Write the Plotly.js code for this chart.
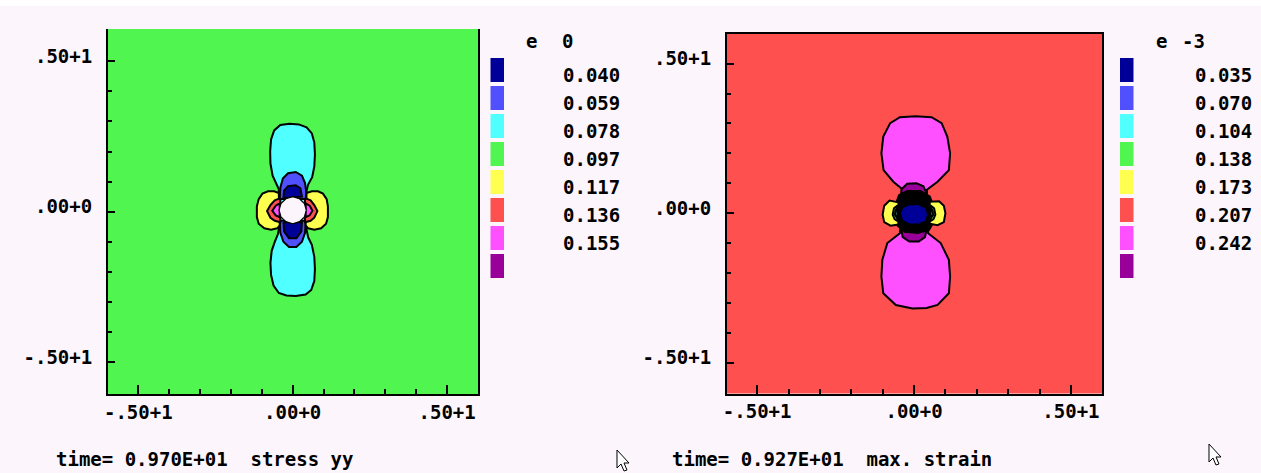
<!DOCTYPE html>
<html>
<head>
<meta charset="utf-8">
<script src="https://cdn.plot.ly/plotly-3.0.1.min.js"></script>
<style>html,body{margin:0;padding:0;background:#FCF5FC;}#plot{width:1261px;height:473px;}</style>
</head>
<body>
<div id="plot"></div>
<script>
// ---------- data ----------
const levelsLeft  = ['0.040','0.059','0.078','0.097','0.117','0.136','0.155'];
const levelsRight = ['0.035','0.070','0.104','0.138','0.173','0.207','0.242'];
const bandColors  = ['#000099','#5050FF','#50FFFF','#50F550','#FFFF50','#FF5050','#FF50FF','#990099'];
const scaleExpLeft = '0', scaleExpRight = '-3';
const captionLeft  = 'time= 0.970E+01  stress yy';
const captionRight = 'time= 0.927E+01  max. strain';
const majorTicks = [-5, 0, 5];
const majorText  = ['-.50+1', '.00+0', '.50+1'];
const minorTicks = [-4, -3, -2, -1, 1, 2, 3, 4];

// stress yy contour regions (data units)
const syCyanX = [-0.45,-0.55,-0.65,-0.72,-0.73,-0.70,-0.60,-0.40,-0.10,0.20,0.45,0.62,0.70,0.72,0.70,0.63,0.50,0.45,0.45,0.50,0.62,0.70,0.72,0.70,0.60,0.42,0.10,-0.20,-0.45,-0.62,-0.70,-0.72,-0.68,-0.58,-0.48,-0.45];
const syCyanY = [0.75,0.95,1.20,1.60,2.00,2.40,2.70,2.88,2.92,2.90,2.80,2.60,2.30,1.90,1.50,1.15,0.90,0.70,-0.60,-0.85,-1.10,-1.50,-1.90,-2.30,-2.60,-2.75,-2.80,-2.78,-2.70,-2.45,-2.10,-1.70,-1.30,-1.00,-0.75,-0.60];
const syYellowLX = [-0.45,-0.60,-0.80,-0.98,-1.10,-1.16,-1.16,-1.10,-0.92,-0.70,-0.50,-0.42];
const syYellowRX = [0.45,0.62,0.82,0.98,1.10,1.14,1.14,1.08,0.92,0.70,0.50,0.42];
const syYellowY  = [0.62,0.68,0.68,0.60,0.42,0.18,-0.18,-0.40,-0.55,-0.60,-0.55,-0.45];
const syRedLX = [-0.40,-0.58,-0.72,-0.83,-0.72,-0.58,-0.40];
const syRedRX = [0.40,0.58,0.70,0.80,0.70,0.58,0.40];
const syRedY  = [0.45,0.38,0.22,0.02,-0.20,-0.30,-0.35];
const syMagLX = [-0.42,-0.55,-0.66,-0.55,-0.42];
const syMagRX = [0.42,0.55,0.64,0.55,0.42];
const syMagY  = [0.28,0.20,0.03,-0.12,-0.18];
const syBlueTopX = [-0.42,-0.40,-0.32,-0.15,0.10,0.30,0.40,0.44,0.42];
const syBlueTopY = [0.42,0.80,1.10,1.28,1.32,1.20,0.95,0.65,0.42];
const syDarkTopX = [-0.30,-0.28,-0.15,0.10,0.25,0.30];
const syDarkTopY = [0.45,0.70,0.85,0.88,0.78,0.50];
const syBlueBotX = [-0.42,-0.40,-0.30,-0.12,0.12,0.30,0.40,0.42];
const syBlueBotY = [-0.30,-0.70,-1.00,-1.17,-1.17,-1.00,-0.70,-0.30];
const syDarkBotX = [-0.30,-0.28,-0.12,0.12,0.28,0.30];
const syDarkBotY = [-0.35,-0.65,-0.88,-0.88,-0.65,-0.35];
const syHoleX = [0.44,0.38,0.22,0.00,-0.22,-0.38,-0.44,-0.38,-0.22,0.00,0.22,0.38];
const syHoleY = [0.05,0.27,0.43,0.50,0.43,0.27,0.05,-0.17,-0.33,-0.40,-0.33,-0.17];

// max strain contour regions (data units)
const msMagX = [-0.35,-0.66,-0.97,-1.04,-0.98,-0.76,-0.45,0.05,0.56,0.88,1.06,1.15,1.11,0.75,0.41,0.45,0.85,1.11,1.15,1.11,0.75,0.40,-0.05,-0.58,-0.98,-1.04,-1.01,-0.85,-0.45];
const msMagY = [0.78,1.05,1.44,2.00,2.56,3.01,3.21,3.24,3.21,3.01,2.56,2.00,1.44,1.05,0.78,-0.67,-1.00,-1.56,-2.12,-2.68,-3.07,-3.17,-3.19,-3.07,-2.68,-2.12,-1.56,-1.00,-0.67];
const msPurpTopX = [-0.42,-0.40,-0.22,0.08,0.30,0.40,0.38];
const msPurpTopY = [0.45,0.80,0.98,1.00,0.90,0.65,0.45];
const msPurpBotX = [-0.42,-0.36,-0.15,0.15,0.35,0.42];
const msPurpBotY = [-0.45,-0.80,-0.95,-0.95,-0.80,-0.45];
const msBlackX = [-0.58,-0.48,-0.22,0.20,0.50,0.62,0.62,0.48,0.12,-0.30,-0.52,-0.60];
const msBlackY = [0.30,0.60,0.74,0.74,0.56,0.25,-0.30,-0.56,-0.66,-0.62,-0.42,0.00];
const msYellowLX = [-0.50,-0.78,-0.95,-1.00,-0.95,-0.75,-0.50];
const msYellowLY = [0.36,0.42,0.25,-0.05,-0.30,-0.42,-0.38];
const msYellowRX = [0.50,0.80,0.95,1.00,0.95,0.75,0.50];
const msYellowRY = [0.38,0.40,0.25,0.00,-0.30,-0.40,-0.35];
const msGreenLX = [-0.52,-0.64,-0.68,-0.62,-0.52];
const msGreenRX = [0.52,0.64,0.68,0.62,0.52];
const msGreenY  = [0.26,0.16,-0.05,-0.20,-0.27];
const msCyanLX = [-0.53,-0.59,-0.61,-0.57,-0.53];
const msCyanRX = [0.53,0.59,0.61,0.57,0.53];
const msCyanY  = [0.17,0.10,-0.05,-0.14,-0.18];
const msDarkX = [-0.45,-0.36,-0.15,0.15,0.38,0.45,0.38,0.15,-0.15,-0.38];
const msDarkY = [0.00,0.20,0.30,0.30,0.18,-0.05,-0.28,-0.38,-0.38,-0.25];

// ---------- drawing ----------
const W = 1261, H = 473;
const BG = '#FCF5FC';
const FONT = {family: 'DejaVu Sans Mono', size: 19, color: '#000000', weight: 700};
const px = v => v / W;
const py = v => 1 - v / H;

function region(xs, ys, color, ax, lw) {
  return {
    type: 'scatter', mode: 'lines', fill: 'toself', fillcolor: color,
    x: xs.concat([xs[0]]), y: ys.concat([ys[0]]),
    line: {color: '#000000', width: lw === undefined ? 2 : lw},
    xaxis: ax === 2 ? 'x2' : 'x', yaxis: ax === 2 ? 'y2' : 'y',
    hoverinfo: 'skip', showlegend: false
  };
}
const C = bandColors;
const traces = [
  region(syCyanX, syCyanY, C[2], 1),
  region(syBlueTopX, syBlueTopY, C[1], 1),
  region(syDarkTopX, syDarkTopY, C[0], 1),
  region(syBlueBotX, syBlueBotY, C[1], 1),
  region(syDarkBotX, syDarkBotY, C[0], 1),
  region(syYellowLX, syYellowY, C[4], 1),
  region(syYellowRX, syYellowY, C[4], 1),
  region(syRedLX, syRedY, C[5], 1),
  region(syRedRX, syRedY, C[5], 1),
  region(syMagLX, syMagY, C[6], 1),
  region(syMagRX, syMagY, C[6], 1),
  region(syHoleX, syHoleY, BG, 1, 1.2),

  region(msMagX, msMagY, C[6], 2),
  region(msPurpTopX, msPurpTopY, C[7], 2),
  region(msPurpBotX, msPurpBotY, C[7], 2),
  region(msBlackX, msBlackY, '#000000', 2),
  region(msYellowLX, msYellowLY, C[4], 2),
  region(msYellowRX, msYellowRY, C[4], 2),
  region(msGreenLX, msGreenY, C[3], 2),
  region(msGreenRX, msGreenY, C[3], 2),
  region(msCyanLX, msCyanY, C[2], 2),
  region(msCyanRX, msCyanY, C[2], 2),
  region(msDarkX, msDarkY, C[0], 2)
];

function axisX(domain, range, anchor, mirror) {
  return {
    domain: domain, range: range, anchor: anchor, fixedrange: true,
    showgrid: false, zeroline: false, showline: true, linecolor: '#000', linewidth: 2, mirror: mirror,
    ticks: 'inside', tickvals: majorTicks, ticktext: majorText, ticklen: 9, tickwidth: 2, tickcolor: '#000',
    minor: {tickvals: minorTicks, ticks: 'inside', ticklen: 5, tickwidth: 2, tickcolor: '#000', showgrid: false},
    tickfont: FONT, ticklabelstandoff: 0, automargin: false
  };
}
function axisY(domain, range, anchor) {
  return {
    domain: domain, range: range, anchor: anchor, fixedrange: true,
    showgrid: false, zeroline: false, showline: true, linecolor: '#000', linewidth: 2, mirror: true,
    ticks: 'inside', tickvals: majorTicks, ticktext: majorText, ticklen: 7, tickwidth: 2, tickcolor: '#000',
    minor: {tickvals: minorTicks, ticks: 'inside', ticklen: 4, tickwidth: 2, tickcolor: '#000', showgrid: false},
    tickfont: FONT, ticklabelstandoff: 10, ticklabelshift: -5, automargin: false
  };
}

const shapes = [
  {type: 'rect', xref: 'paper', yref: 'paper', x0: 0, x1: 1, y0: py(6), y1: 1, fillcolor: '#FFFFFF', line: {width: 0}, layer: 'below'},
  {type: 'rect', xref: 'x domain', yref: 'y domain', x0: 0, x1: 1, y0: 0, y1: 1, fillcolor: C[3], line: {width: 0}, layer: 'below'},
  {type: 'rect', xref: 'x2 domain', yref: 'y2 domain', x0: 0, x1: 1, y0: 0, y1: 1, fillcolor: C[5], line: {width: 0}, layer: 'below'}
];
const annotations = [];
function legendBlock(x0, labelRight, hdrE, hdrExpX, expText, levels) {
  C.forEach((c, i) => {
    const top = 58 + 28 * i;
    shapes.push({type: 'rect', xref: 'paper', yref: 'paper', x0: px(x0), x1: px(x0 + 13.5),
      y0: py(top + 24), y1: py(top), fillcolor: c, line: {width: 0}});
  });
  levels.forEach((t, i) => {
    annotations.push({xref: 'paper', yref: 'paper', x: px(labelRight), y: py(75 + 28 * i),
      xanchor: 'right', yanchor: 'middle', text: t, showarrow: false, font: FONT});
  });
  annotations.push({xref: 'paper', yref: 'paper', x: px(hdrE), y: py(41), xanchor: 'left', yanchor: 'middle',
    text: 'e', showarrow: false, font: FONT});
  annotations.push({xref: 'paper', yref: 'paper', x: px(hdrExpX), y: py(41), xanchor: 'left', yanchor: 'middle',
    text: expText, showarrow: false, font: FONT});
}
legendBlock(490.5, 622, 524, 560, scaleExpLeft, levelsLeft);
legendBlock(1120, 1254, 1154, 1180, scaleExpRight, levelsRight);

const nb = s => s.replace(/ /g, '\u00A0');
annotations.push({xref: 'paper', yref: 'paper', x: px(54), y: py(459), xanchor: 'left', yanchor: 'middle',
  text: nb(captionLeft), showarrow: false, font: FONT});
annotations.push({xref: 'paper', yref: 'paper', x: px(670), y: py(459), xanchor: 'left', yanchor: 'middle',
  text: nb(captionRight), showarrow: false, font: FONT});

function cursor(x0, y0) {
  const pts = [[0,0],[0,18],[4,14],[7,21],[10,20],[7,13],[12,13]];
  const d = pts.map((p, i) => (i ? 'L' : 'M') + px(x0 + p[0]).toFixed(5) + ',' + py(y0 + p[1]).toFixed(5)).join(' ') + ' Z';
  shapes.push({type: 'path', xref: 'paper', yref: 'paper', path: d, fillcolor: '#FFFFFF', line: {color: '#000', width: 1}});
}
cursor(617, 450);
cursor(1209, 444);

const layout = {
  width: W, height: H, margin: {l: 0, r: 0, t: 0, b: 0, pad: 0},
  paper_bgcolor: BG, plot_bgcolor: 'rgba(0,0,0,0)', showlegend: false,
  xaxis:  axisX([px(108), px(478)], [-5.98, 6.0], 'y', false),
  yaxis:  axisY([py(394), py(29)], [-6.056, 6.07], 'x'),
  xaxis2: axisX([px(727), px(1102)], [-5.96, 5.99], 'y2', true),
  yaxis2: axisY([py(393.5), py(34)], [-6.03, 5.99], 'x2'),
  shapes: shapes, annotations: annotations, hovermode: false
};
Plotly.newPlot('plot', traces, layout, {staticPlot: true, displayModeBar: false});
</script>
</body>
</html>
